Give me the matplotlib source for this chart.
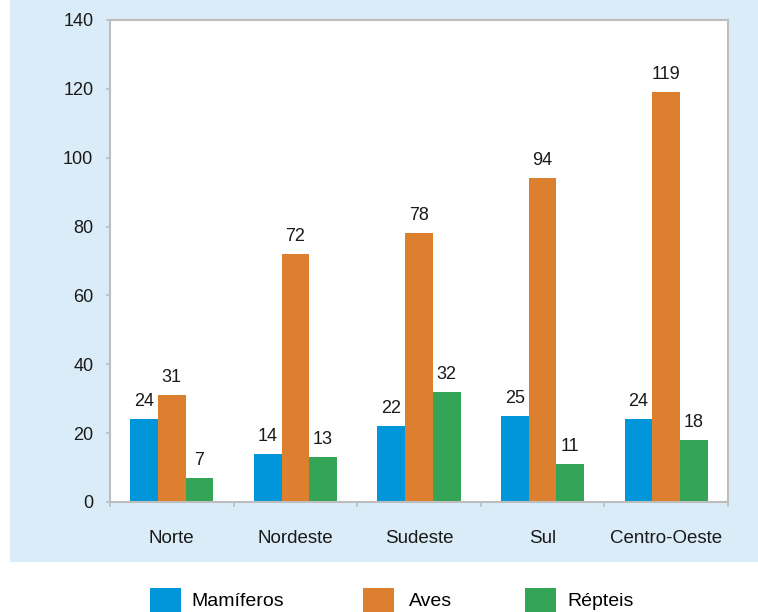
import matplotlib
matplotlib.use("Agg")
import matplotlib.pyplot as plt
import numpy as np
from matplotlib.patches import Rectangle

categories = ["Norte", "Nordeste", "Sudeste", "Sul", "Centro-Oeste"]
series_names = ["Mamíferos", "Aves", "Répteis"]
mamiferos = [24, 14, 22, 25, 24]
aves = [31, 72, 78, 94, 119]
repteis = [7, 13, 32, 11, 18]
colors = ["#0096D9", "#DC7F2E", "#34A457"]
y_ticks = [0, 20, 40, 60, 80, 100, 120, 140]

plt.rcParams['font.family'] = ['Liberation Sans', 'DejaVu Sans']
FS = 13

fig = plt.figure(figsize=(7.58, 6.12), dpi=100)
bg = Rectangle((10/758, 50/612), 1 - 10/758, 1 - 50/612,
               transform=fig.transFigure, facecolor="#DBECF9",
               edgecolor="none", zorder=-5)
fig.add_artist(bg)

ax = fig.add_axes([110/758, 1 - 502/612, 618/758, 482/612])
ax.set_facecolor("white")
x = np.arange(len(categories))
w = 0.224
values = [mamiferos, aves, repteis]
handles = []
for i, (vals, c, name) in enumerate(zip(values, colors, series_names)):
    bars = ax.bar(x + (i - 1) * w, vals, w, color=c, label=name, zorder=2)
    handles.append(bars)
    for b, v in zip(bars, vals):
        ax.annotate(str(v), (b.get_x() + b.get_width() / 2, v),
                    xytext=(0, 6.5), textcoords="offset points",
                    ha="center", va="bottom", fontsize=FS, color="#1a1a1a")

ax.set_xlim(-0.5, len(categories) - 0.5)
ax.set_ylim(0, 140)
ax.set_yticks(y_ticks)
ax.set_yticklabels([str(t) for t in y_ticks], fontsize=FS, color="#1a1a1a")
ax.set_xticks(x)
ax.set_xticklabels(categories, fontsize=13.5, color="#1a1a1a")
ax.tick_params(axis="x", length=0, pad=20)
ax.set_xticks(np.arange(len(categories) + 1) - 0.5, minor=True)
ax.tick_params(axis="x", which="minor", length=3.5, color="#BDBDBD", width=1.2)
ax.tick_params(axis="y", length=3, color="#BDBDBD", width=1.2, pad=9)
for s in ax.spines.values():
    s.set_color("#BDBDBD")
    s.set_linewidth(1.5)

legend_x = [150, 363, 525]
pads = [0.55, 0.75, 0.6]
for h, name, lx, p in zip(handles, series_names, legend_x, pads):
    leg = fig.legend([h], [name], loc="center left",
                     bbox_to_anchor=(lx / 758, 1 - 600 / 612),
                     frameon=False, fontsize=14, handlelength=1.6,
                     handleheight=1.6, handletextpad=p, borderpad=0,
                     borderaxespad=0)

fig.savefig("out.png", dpi=100)
